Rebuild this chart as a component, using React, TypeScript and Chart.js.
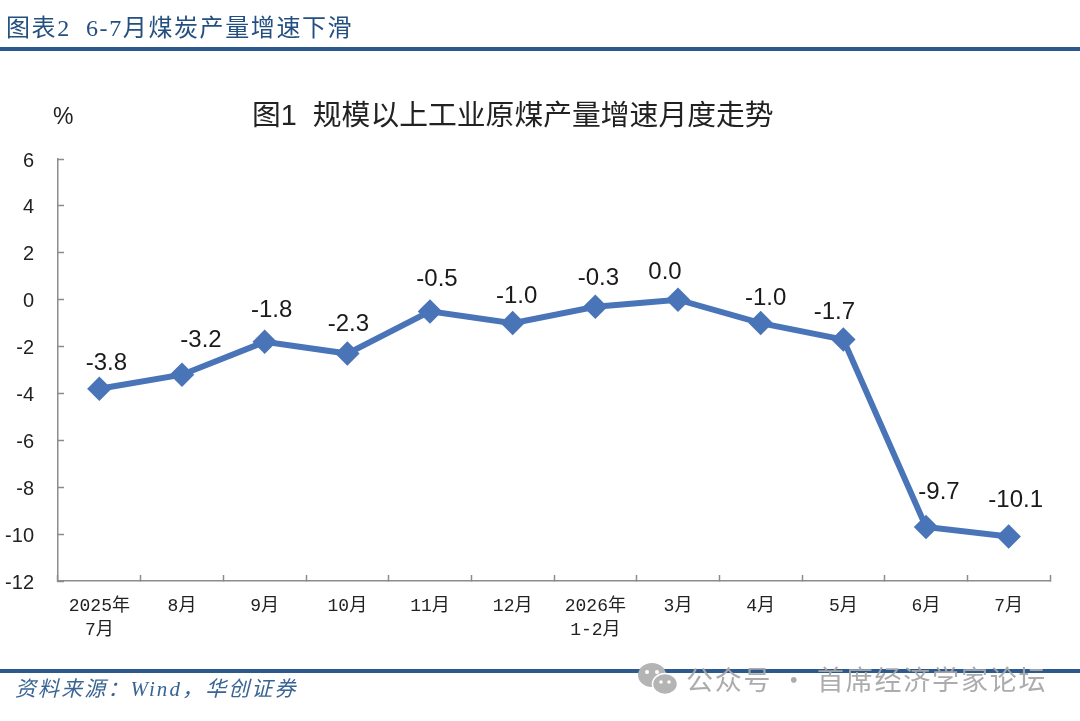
import React, { useEffect, useRef } from "react";
import { Chart, registerables } from "chart.js";

Chart.register(...registerables);

const categories: (string | string[])[] = [
  ["2025年", "7月"], "8月", "9月", "10月", "11月", "12月",
  ["2026年", "1-2月"], "3月", "4月", "5月", "6月", "7月",
];
const growth = [-3.8, -3.2, -1.8, -2.3, -0.5, -1.0, -0.3, 0.0, -1.0, -1.7, -9.7, -10.1];
const labelOffsetX = [7, 19, 7, 1, 7, 4, 3, -13, 5, -9, 13, 7];
const labelOffsetY = [25, 34, 31, 29, 32, 27, 28, 27, 25, 27, 35, 36];

const BLUE = "#4a74b8";
const RULE = "#2d5a8e";
const SANS = '"Liberation Sans", "Noto Sans CJK SC", sans-serif';
const SERIF = '"Liberation Serif", "Noto Sans CJK SC", serif';
const MONO = '"Liberation Mono", "Noto Sans CJK SC", monospace';

const pointLabels = {
  id: "pointLabels",
  afterDatasetsDraw(chart: Chart) {
    const { ctx } = chart;
    const pts = chart.getDatasetMeta(0).data;
    ctx.save();
    ctx.font = `24px ${SANS}`;
    ctx.fillStyle = "#1a1a1a";
    ctx.textAlign = "center";
    ctx.textBaseline = "middle";
    pts.forEach((p: any, i: number) => {
      ctx.fillText(growth[i].toFixed(1), p.x + labelOffsetX[i], p.y - labelOffsetY[i]);
    });
    ctx.restore();
  },
};

const abs = (s: React.CSSProperties): React.CSSProperties => ({ position: "absolute", whiteSpace: "nowrap", ...s });

export default function App() {
  const ref = useRef<HTMLCanvasElement>(null);
  useEffect(() => {
    const chart = new Chart(ref.current!, {
      type: "line",
      data: {
        labels: categories as any,
        datasets: [{
          data: growth,
          borderColor: BLUE,
          backgroundColor: BLUE,
          borderWidth: 6,
          tension: 0,
          pointStyle: "rectRot",
          pointRadius: 8,
          pointHoverRadius: 8,
        }],
      },
      options: {
        responsive: false,
        animation: false,
        layout: { padding: { left: 0, top: 159, right: 30, bottom: 0 } },
        plugins: {
          legend: { display: false },
          tooltip: { enabled: false },
          title: { display: false },
        },
        scales: {
          x: {
            offset: true,
            afterFit: (s: any) => { s.height = 140; },
            border: { color: "#8c8c8c", width: 1.5 },
            grid: { display: true, offset: true, drawOnChartArea: false, tickLength: -6, tickColor: "#8c8c8c", tickWidth: 1.5 },
            ticks: { maxRotation: 0, minRotation: 0, autoSkip: false, padding: 19, color: "#222", font: { family: MONO, size: 18, lineHeight: 1.35 } },
          },
          y: {
            min: -12,
            max: 6,
            afterFit: (s: any) => { s.width = 58; },
            border: { color: "#8c8c8c", width: 1.5 },
            grid: { display: true, drawOnChartArea: false, tickLength: -6, tickColor: "#8c8c8c", tickWidth: 1.5 },
            ticks: { stepSize: 2, padding: 30, labelOffset: 2, color: "#222", font: { family: SANS, size: 20 } },
          },
        },
      },
      plugins: [pointLabels],
    });
    return () => chart.destroy();
  }, []);

  return (
    <div style={{ position: "fixed", left: 0, top: 0, width: 1080, height: 721, background: "#fff", overflow: "hidden" }}>
      <canvas ref={ref} width={1080} height={721} style={{ position: "absolute", left: 0, top: 0 }} />
      <div style={abs({ left: 6, top: 14, fontFamily: SERIF, fontSize: 24, letterSpacing: 1.6, color: "#235080", lineHeight: "28px" })}>图表2&nbsp; 6-7月煤炭产量增速下滑</div>
      <div style={abs({ left: 0, top: 47, width: 1080, height: 4, background: RULE })} />
      <div style={abs({ left: 53, top: 104, fontFamily: SANS, fontSize: 23, color: "#222", lineHeight: "24px" })}>%</div>
      <div style={abs({ left: 252, top: 98, fontFamily: SANS, fontSize: 28.8, color: "#222", lineHeight: "34px" })}>图1&nbsp; 规模以上工业原煤产量增速月度走势</div>
      <div style={abs({ left: 0, top: 669, width: 1080, height: 4, background: RULE })} />
      <div style={abs({ left: 15, top: 676, fontFamily: SERIF, fontStyle: "italic", fontSize: 21, letterSpacing: 2.1, color: "#3a6493", lineHeight: "26px" })}>资料来源：Wind，华创证券</div>
      <svg style={{ position: "absolute", left: 638, top: 660 }} width="42" height="38" viewBox="0 0 42 38">
        <ellipse cx="14" cy="15" rx="14" ry="12" fill="#b4b4b4" />
        <circle cx="9" cy="12" r="2" fill="#fff" />
        <circle cx="19" cy="12" r="2" fill="#fff" />
        <ellipse cx="27" cy="24" rx="12.5" ry="10.5" fill="#b4b4b4" stroke="#fff" strokeWidth="1.5" />
        <circle cx="23" cy="22" r="1.8" fill="#fff" />
        <circle cx="31" cy="22" r="1.8" fill="#fff" />
      </svg>
      <div style={abs({ left: 686, top: 662, fontFamily: '"Noto Sans CJK SC", sans-serif', fontSize: 27, letterSpacing: 1.8, color: "#a8a8a8", opacity: 0.95, lineHeight: "34px" })}>公众号 · 首席经济学家论坛</div>
    </div>
  );
}
